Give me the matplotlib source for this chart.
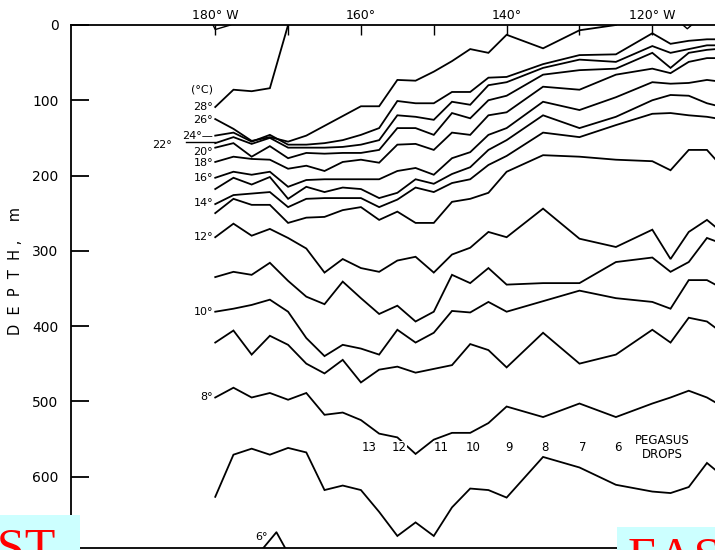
import numpy as np
import matplotlib
matplotlib.use("Agg")
import matplotlib.pyplot as plt
from matplotlib.patches import Rectangle

# ---------------- data ----------------
stations = [180, 177.5, 175, 172.5, 170, 167.5, 165, 162.5, 160, 157.5, 155, 152.5,
            150, 147.5, 145, 142.5, 140, 135, 130, 125, 120, 117.5, 115, 112.5, 110]

t28 = [109, 86, 88, 84, 0]
t26 = [125, 138, 154, 149, 155, 147, 134, 121, 108, 108, 73, 74, 62, 48, 32, 37, 13, 31, 7, 0]
t24 = [147, 143, 155, 146, 159, 159, 157, 153, 146, 137, 101, 104, 104, 89, 89, 70, 69,
       52, 40, 39, 11, 25, 21, 19, 19]
t22 = [157, 149, 158, 150, 163, 163, 163, 162, 159, 153, 120, 122, 126, 102, 106, 80, 76,
       57, 46, 49, 28, 37, 32, 27, 27]
t20 = [163, 157, 175, 161, 177, 170, 171, 170, 170, 166, 137, 137, 146, 117, 124, 100, 94,
       66, 60, 58, 37, 57, 37, 33, 31]
t18 = [182, 175, 178, 179, 191, 187, 194, 182, 179, 183, 159, 158, 166, 143, 146, 120, 116,
       82, 86, 66, 58, 64, 49, 44, 44]
t16 = [203, 195, 199, 195, 215, 206, 205, 205, 205, 205, 194, 190, 199, 177, 169, 146, 137,
       102, 113, 96, 76, 78, 77, 73, 76]
t15 = [218, 203, 212, 202, 231, 215, 222, 216, 218, 230, 223, 205, 211, 198, 189, 166, 153,
       120, 137, 122, 100, 93, 94, 104, 110]
t14 = [238, 226, 224, 222, 242, 231, 230, 230, 230, 242, 232, 216, 222, 210, 205, 186, 174,
       143, 149, 133, 118, 117, 120, 122, 126]
t13 = [250, 231, 239, 239, 263, 256, 255, 246, 242, 259, 248, 263, 263, 235, 231, 223, 195,
       173, 175, 179, 181, 193, 166, 166, 193]
t12 = [282, 264, 280, 271, 283, 297, 329, 311, 323, 328, 313, 308, 329, 305, 296, 275, 282,
       244, 284, 295, 272, 311, 275, 259, 279]
t11 = [335, 328, 332, 316, 340, 361, 371, 341, 363, 384, 373, 394, 381, 332, 343, 323, 345,
       343, 343, 315, 309, 328, 315, 283, 292]
t10 = [381, 377, 372, 365, 381, 416, 440, 425, 430, 438, 405, 422, 409, 380, 382, 368, 381,
       367, 353, 363, 368, 377, 339, 339, 352]
t9 = [422, 406, 438, 413, 425, 450, 463, 445, 475, 458, 454, 462, 457, 452, 424, 432, 455,
      409, 450, 438, 405, 422, 389, 394, 412]
t8 = [495, 482, 495, 489, 498, 489, 518, 515, 525, 543, 548, 570, 551, 542, 542, 529, 507,
      521, 503, 521, 503, 495, 486, 495, 509]
t7 = [627, 571, 563, 571, 562, 568, 618, 612, 618, 647, 679, 661, 679, 641, 616, 618, 628,
      574, 588, 611, 620, 622, 614, 582, 602]
t6_lon = [173.4, 171.6, 170.4]
t6 = [695, 674, 695]
frag_w_lon = [180.3, 180.0, 177.9]
frag_w = [0, 6, 0]
frag_e_lon = [115.8, 115.2, 114.6]
frag_e = [0, 5, 0]

isotherms = [t28, t26, t24, t22, t20, t18, t16, t15, t14, t13, t12, t11, t10, t9, t8, t7]

iso_labels = ["(°C)", "28°", "26°", "24°—", "22°", "20°", "18°", "16°", "14°", "12°",
              "10°", "8°"]
iso_label_depth = [86, 109, 126, 147, 159, 169, 183, 203, 236, 282, 381, 495]

drop_labels = ["13", "12", "11", "10", "9", "8", "7", "6"]
drop_lon = [158.9, 154.8, 149.0, 144.6, 139.7, 134.7, 129.6, 124.7]
drop_depth = 562

lon_ticks = [180, 170, 160, 150, 140, 130, 120]
lon_ticklabels = ["180° W", "", "160°", "", "140°", "", "120° W"]
depth_ticks = [0, 100, 200, 300, 400, 500, 600]

# ---------------- figure ----------------
W, H = 715, 550
fig = plt.figure(figsize=(W / 100, H / 100), dpi=100)
ax = fig.add_axes([71 / W, 2 / H, 1 - 71 / W + 0.002, (548 - 25) / H])
ax.set_xlim(199.8, 111.2)
ax.set_ylim(695, 0)

for t in isotherms:
    ax.plot(stations[:len(t)], t, color="black", lw=1.3, solid_joinstyle="miter")
ax.plot(t6_lon, t6, color="black", lw=1.3)
ax.plot(frag_w_lon, frag_w, color="black", lw=1.0)
ax.plot(frag_e_lon, frag_e, color="black", lw=1.0)

# spines / ticks
ax.spines["right"].set_visible(False)
for s in ["left", "top", "bottom"]:
    ax.spines[s].set_linewidth(1.3)
ax.xaxis.tick_top()
ax.set_xticks(lon_ticks)
ax.set_xticklabels(lon_ticklabels, fontsize=9)
ax.tick_params(axis="x", direction="in", length=7, width=1, pad=2)
ax.set_yticks(depth_ticks)
ax.set_yticklabels([str(d) for d in depth_ticks], fontsize=10)
ax.tick_params(axis="y", direction="in", length=13, width=1.3, pad=9)
ax.set_ylabel("D  E  P  T  H ,    m", fontsize=10.5)
ax.yaxis.set_label_coords(-0.074, 0.53)

# isotherm labels
for lab, d in zip(iso_labels, iso_label_depth):
    if lab == "22°":
        ax.text(185.9, d, lab, fontsize=8, ha="right", va="center")
        ax.plot([184.0, 180.0], [d - 3, d - 3], color="black", lw=1.0)
    else:
        ax.text(180.3, d, lab, fontsize=8, ha="right", va="center")
ax.text(172.8, 680, "6°", fontsize=8, ha="right", va="center")

for lab, x in zip(drop_labels, drop_lon):
    ax.text(x, drop_depth, lab, fontsize=8.5, ha="center", va="center",
            bbox=dict(facecolor="white", edgecolor="none", pad=0.5))
ax.text(118.6, drop_depth, "PEGASUS\nDROPS", fontsize=8.5, ha="center", va="center",
        linespacing=1.1)

# WEST / EAST overlay boxes
fig.patches.append(Rectangle((0, 0), 80 / W, 35 / H, transform=fig.transFigure,
                             facecolor="#ccffff", edgecolor="none", zorder=5))
fig.text(56 / W, -13 / H, "WEST", fontsize=36, color="red", family="Liberation Serif",
         ha="right", va="baseline", zorder=6)
fig.patches.append(Rectangle((617 / W, 0), 98 / W, 23 / H, transform=fig.transFigure,
                             facecolor="#ccffff", edgecolor="none", zorder=5))
fig.text(628 / W, -22 / H, "EAST", fontsize=36, color="red", family="Liberation Serif",
         ha="left", va="baseline", zorder=6)

fig.savefig("out.png", dpi=100)
